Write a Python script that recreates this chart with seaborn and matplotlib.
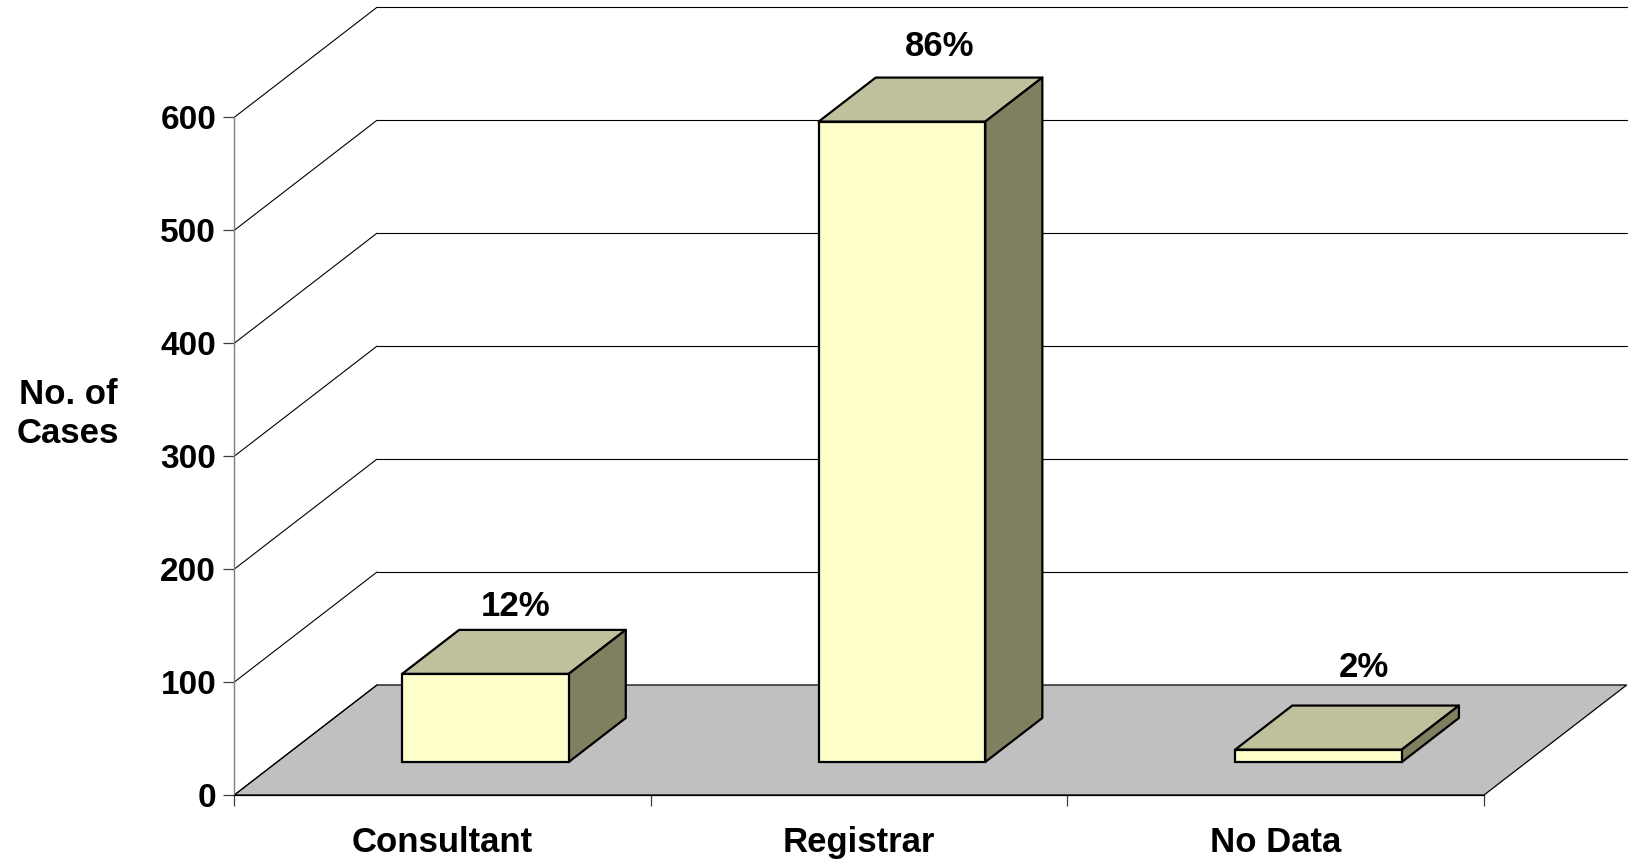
import matplotlib
matplotlib.use("Agg")
import matplotlib.pyplot as plt
from matplotlib.patches import Polygon
import seaborn as sns
import pandas as pd

# Data
categories = ["Consultant", "Registrar", "No Data"]
cases = [78, 567, 11]
percent_labels = ["12%", "86%", "2%"]
y_ticks = [0, 100, 200, 300, 400, 500, 600]

sns.set_style("white")
plt.rcParams["font.family"] = ["Liberation Sans", "DejaVu Sans"]
plt.rcParams["font.weight"] = "bold"
plt.rcParams["text.color"] = "black"
plt.rcParams["xtick.color"] = "black"
plt.rcParams["ytick.color"] = "black"
plt.rcParams["xtick.labelcolor"] = "black"
plt.rcParams["ytick.labelcolor"] = "black"

W, H = 1628, 863
fig = plt.figure(figsize=(W / 100, H / 100), dpi=100)
ax = fig.add_axes([234.3 / W, 68 / H, 1392.4 / W, 787.7 / H])

# Oblique depth of the 3-D box (x in category units, y in value units)
DX, DY = 0.3425, 97.4
BAR_W = 0.4
F0, F1 = 0.3, 0.4          # bar starts at 30% of the depth and is 40% deep

df = pd.DataFrame({"category": categories, "cases": cases})
sns.barplot(data=df, x="category", y="cases", width=BAR_W, color="#FFFFCC",
            saturation=1, edgecolor="black", linewidth=1.6, ax=ax, zorder=5)

x_lo, x_hi = -0.5, len(categories) - 0.5
ax.set_xlim(x_lo, x_hi + DX)
ax.set_ylim(0, max(y_ticks) + DY)

# Floor
ax.add_patch(Polygon([(x_lo, 0), (x_hi, 0), (x_hi + DX, DY), (x_lo + DX, DY)],
                     closed=True, facecolor="#C0C0C0", edgecolor="black",
                     linewidth=0.9, zorder=1, clip_on=False))

# Side wall diagonals and back wall gridlines
for t in y_ticks:
    ax.plot([x_lo, x_lo + DX], [t, t + DY], color="black", lw=0.8,
            zorder=2, clip_on=False)
    if t > 0:
        ax.plot([x_lo + DX, x_hi + DX], [t + DY, t + DY], color="black",
                lw=0.8, zorder=2, clip_on=False)

# Turn the flat bars into boxes: shift front faces into depth, add top/side
for i, (patch, val) in enumerate(zip(ax.patches[:len(cases)], cases)):
    x0 = patch.get_x() + F0 * DX
    b = F0 * DY
    w = patch.get_width()
    patch.set_x(x0)
    patch.set_y(b)
    patch.set_height(val)
    top = b + val
    ddx, ddy = F1 * DX, F1 * DY
    ax.add_patch(Polygon([(x0, top), (x0 + w, top), (x0 + w + ddx, top + ddy),
                          (x0 + ddx, top + ddy)], closed=True,
                         facecolor="#C0C09C", edgecolor="black", lw=1.6,
                         zorder=4, joinstyle="round"))
    ax.add_patch(Polygon([(x0 + w, b), (x0 + w, top), (x0 + w + ddx, top + ddy),
                          (x0 + w + ddx, b + ddy)], closed=True,
                         facecolor="#808060", edgecolor="black", lw=1.6,
                         zorder=4, joinstyle="round"))
    # value label above the top face
    ax.annotate(percent_labels[i], xy=(x0 + w / 2 + ddx / 2, top + ddy),
                xytext=(2 + 7.5 * i, 14 + 7.5 * i), textcoords="offset pixels",
                ha="center", va="baseline", fontsize=25, fontweight="bold",
                color="black", zorder=6)

# Axes
for s in ["top", "right"]:
    ax.spines[s].set_visible(False)
ax.spines["left"].set_bounds(0, max(y_ticks))
ax.spines["left"].set_color("#808080")
ax.spines["left"].set_linewidth(1.0)
ax.spines["bottom"].set_bounds(x_lo, x_hi)
ax.spines["bottom"].set_color("black")
ax.spines["bottom"].set_linewidth(0.9)

ax.set_yticks(y_ticks)
ax.set_yticklabels([str(t) for t in y_ticks], fontsize=24, fontweight="bold",
                   color="black")
ax.tick_params(axis="y", direction="out", length=8, width=0.9,
               color="#404040", pad=5, left=True)

ax.set_xticks(range(len(categories)))
ax.set_xticklabels(categories, fontsize=25, fontweight="bold", color="black")
ax.set_xticks([x_lo + k for k in range(len(categories) + 1)], minor=True)
ax.tick_params(axis="x", which="major", length=0, pad=22)
ax.tick_params(axis="x", which="minor", direction="out", length=8,
               width=0.9, color="#404040", bottom=True)
ax.set_xlabel("")
ax.set_ylabel("")
ax.grid(False)

fig.text(68 / W, 1 - 414 / H, "No. of\nCases", ha="center", va="center",
         multialignment="center", fontsize=25, fontweight="bold",
         color="black")

fig.savefig("out.png", dpi=100)
